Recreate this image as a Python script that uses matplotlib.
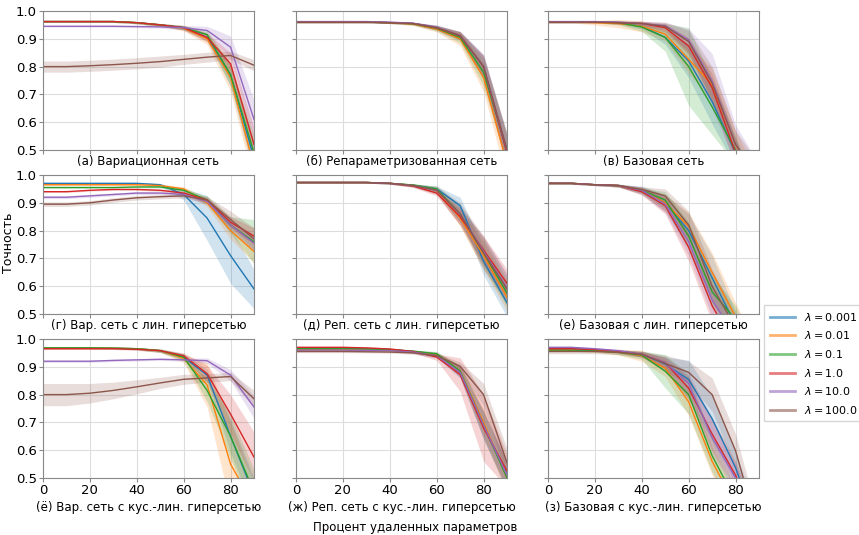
import numpy as np
import matplotlib
matplotlib.use("Agg")
import matplotlib.pyplot as plt

# percent of removed parameters
x = [0, 10, 20, 30, 40, 50, 60, 70, 80, 90]
lambdas = ["0.001", "0.01", "0.1", "1.0", "10.0", "100.0"]

titles = [
    "(а) Вариационная сеть", "(б) Репараметризованная сеть", "(в) Базовая сеть",
    "(г) Вар. сеть с лин. гиперсетью", "(д) Реп. сеть с лин. гиперсетью", "(е) Базовая с лин. гиперсетью",
    "(ё) Вар. сеть с кус.-лин. гиперсетью", "(ж) Реп. сеть с кус.-лин. гиперсетью", "(з) Базовая с кус.-лин. гиперсетью",
]

# mean accuracy per lambda (rows: 0.001, 0.01, 0.1, 1.0, 10.0, 100.0)
acc_a = [
    [0.962, 0.962, 0.962, 0.962, 0.958, 0.950, 0.940, 0.905, 0.770, 0.470],
    [0.962, 0.962, 0.962, 0.962, 0.958, 0.950, 0.938, 0.900, 0.760, 0.440],
    [0.962, 0.962, 0.962, 0.962, 0.958, 0.950, 0.940, 0.915, 0.770, 0.490],
    [0.962, 0.962, 0.962, 0.962, 0.958, 0.950, 0.940, 0.905, 0.810, 0.520],
    [0.945, 0.945, 0.945, 0.945, 0.944, 0.943, 0.940, 0.930, 0.870, 0.610],
    [0.800, 0.800, 0.803, 0.807, 0.812, 0.818, 0.826, 0.834, 0.840, 0.805],
]
std_a = [
    [0.003, 0.003, 0.003, 0.003, 0.004, 0.005, 0.008, 0.015, 0.040, 0.060],
    [0.003, 0.003, 0.003, 0.003, 0.004, 0.005, 0.010, 0.020, 0.050, 0.060],
    [0.003, 0.003, 0.003, 0.003, 0.004, 0.005, 0.008, 0.015, 0.040, 0.060],
    [0.003, 0.003, 0.003, 0.003, 0.004, 0.005, 0.008, 0.015, 0.040, 0.060],
    [0.003, 0.003, 0.003, 0.003, 0.004, 0.005, 0.008, 0.015, 0.040, 0.070],
    [0.020, 0.020, 0.020, 0.020, 0.020, 0.020, 0.018, 0.018, 0.015, 0.020],
]

acc_b = [
    [0.960, 0.960, 0.960, 0.960, 0.958, 0.955, 0.940, 0.910, 0.800, 0.490],
    [0.960, 0.960, 0.960, 0.960, 0.958, 0.953, 0.935, 0.900, 0.760, 0.450],
    [0.960, 0.960, 0.960, 0.960, 0.958, 0.954, 0.938, 0.905, 0.780, 0.500],
    [0.960, 0.960, 0.960, 0.960, 0.958, 0.955, 0.940, 0.910, 0.800, 0.490],
    [0.962, 0.962, 0.962, 0.962, 0.960, 0.956, 0.942, 0.912, 0.800, 0.500],
    [0.960, 0.960, 0.960, 0.960, 0.958, 0.955, 0.940, 0.912, 0.800, 0.500],
]
std_b = [
    [0.003, 0.003, 0.003, 0.003, 0.003, 0.004, 0.008, 0.015, 0.040, 0.060],
    [0.003, 0.003, 0.003, 0.003, 0.003, 0.005, 0.010, 0.025, 0.050, 0.060],
    [0.003, 0.003, 0.003, 0.003, 0.003, 0.005, 0.010, 0.020, 0.050, 0.060],
    [0.003, 0.003, 0.003, 0.003, 0.003, 0.004, 0.008, 0.015, 0.040, 0.060],
    [0.003, 0.003, 0.003, 0.003, 0.003, 0.004, 0.008, 0.015, 0.045, 0.060],
    [0.003, 0.003, 0.003, 0.003, 0.003, 0.004, 0.008, 0.015, 0.040, 0.060],
]

acc_c = [
    [0.960, 0.960, 0.960, 0.958, 0.945, 0.905, 0.820, 0.674, 0.490, 0.300],
    [0.960, 0.960, 0.958, 0.955, 0.945, 0.917, 0.826, 0.735, 0.520, 0.350],
    [0.960, 0.960, 0.960, 0.958, 0.942, 0.905, 0.800, 0.655, 0.500, 0.300],
    [0.960, 0.960, 0.960, 0.958, 0.955, 0.940, 0.874, 0.724, 0.490, 0.300],
    [0.962, 0.962, 0.962, 0.960, 0.955, 0.947, 0.896, 0.747, 0.520, 0.400],
    [0.960, 0.960, 0.960, 0.958, 0.955, 0.945, 0.890, 0.740, 0.520, 0.400],
]
std_c = [
    [0.003, 0.003, 0.003, 0.005, 0.010, 0.025, 0.060, 0.080, 0.050, 0.050],
    [0.003, 0.003, 0.008, 0.015, 0.020, 0.025, 0.050, 0.060, 0.050, 0.050],
    [0.003, 0.003, 0.003, 0.008, 0.015, 0.050, 0.140, 0.100, 0.050, 0.050],
    [0.003, 0.003, 0.003, 0.005, 0.008, 0.015, 0.030, 0.050, 0.050, 0.050],
    [0.003, 0.003, 0.003, 0.005, 0.008, 0.012, 0.040, 0.100, 0.070, 0.050],
    [0.003, 0.003, 0.003, 0.005, 0.008, 0.015, 0.040, 0.060, 0.050, 0.050],
]

acc_d = [
    [0.970, 0.970, 0.970, 0.970, 0.970, 0.965, 0.930, 0.845, 0.710, 0.590],
    [0.965, 0.965, 0.965, 0.965, 0.965, 0.962, 0.950, 0.900, 0.800, 0.725],
    [0.955, 0.955, 0.955, 0.955, 0.957, 0.957, 0.945, 0.910, 0.820, 0.760],
    [0.940, 0.940, 0.945, 0.948, 0.948, 0.945, 0.935, 0.910, 0.830, 0.780],
    [0.920, 0.920, 0.925, 0.930, 0.935, 0.935, 0.930, 0.905, 0.820, 0.755],
    [0.895, 0.895, 0.900, 0.910, 0.918, 0.922, 0.925, 0.910, 0.840, 0.770],
]
std_d = [
    [0.003, 0.003, 0.003, 0.003, 0.003, 0.005, 0.020, 0.080, 0.100, 0.070],
    [0.003, 0.003, 0.003, 0.003, 0.003, 0.004, 0.008, 0.015, 0.030, 0.040],
    [0.003, 0.003, 0.003, 0.003, 0.003, 0.004, 0.008, 0.015, 0.030, 0.080],
    [0.003, 0.003, 0.003, 0.003, 0.003, 0.004, 0.008, 0.010, 0.020, 0.030],
    [0.005, 0.005, 0.005, 0.005, 0.005, 0.005, 0.008, 0.010, 0.020, 0.030],
    [0.008, 0.008, 0.008, 0.008, 0.008, 0.008, 0.008, 0.012, 0.030, 0.040],
]

acc_e = [
    [0.973, 0.973, 0.973, 0.973, 0.970, 0.963, 0.950, 0.890, 0.690, 0.540],
    [0.973, 0.973, 0.973, 0.973, 0.970, 0.963, 0.945, 0.845, 0.710, 0.560],
    [0.973, 0.973, 0.973, 0.973, 0.970, 0.964, 0.950, 0.860, 0.720, 0.575],
    [0.973, 0.973, 0.973, 0.973, 0.970, 0.960, 0.935, 0.850, 0.730, 0.610],
    [0.973, 0.973, 0.973, 0.973, 0.970, 0.962, 0.945, 0.860, 0.725, 0.595],
    [0.973, 0.973, 0.973, 0.973, 0.970, 0.962, 0.945, 0.860, 0.720, 0.590],
]
std_e = [
    [0.002, 0.002, 0.002, 0.002, 0.003, 0.005, 0.010, 0.030, 0.050, 0.050],
    [0.002, 0.002, 0.002, 0.002, 0.003, 0.005, 0.010, 0.030, 0.050, 0.050],
    [0.002, 0.002, 0.002, 0.002, 0.003, 0.005, 0.010, 0.030, 0.050, 0.050],
    [0.002, 0.002, 0.002, 0.002, 0.003, 0.005, 0.010, 0.030, 0.050, 0.050],
    [0.002, 0.002, 0.002, 0.002, 0.003, 0.005, 0.010, 0.030, 0.050, 0.050],
    [0.002, 0.002, 0.002, 0.002, 0.003, 0.005, 0.015, 0.040, 0.060, 0.050],
]

acc_f = [
    [0.970, 0.970, 0.965, 0.962, 0.945, 0.900, 0.800, 0.630, 0.460, 0.300],
    [0.970, 0.970, 0.965, 0.962, 0.945, 0.900, 0.815, 0.650, 0.490, 0.320],
    [0.970, 0.970, 0.965, 0.962, 0.945, 0.910, 0.780, 0.580, 0.480, 0.300],
    [0.970, 0.970, 0.965, 0.962, 0.940, 0.890, 0.740, 0.530, 0.380, 0.250],
    [0.970, 0.970, 0.965, 0.962, 0.945, 0.895, 0.760, 0.550, 0.420, 0.300],
    [0.970, 0.970, 0.965, 0.962, 0.948, 0.925, 0.820, 0.600, 0.450, 0.300],
]
std_f = [
    [0.003, 0.003, 0.003, 0.005, 0.015, 0.030, 0.060, 0.080, 0.050, 0.050],
    [0.003, 0.003, 0.003, 0.005, 0.012, 0.030, 0.050, 0.070, 0.050, 0.050],
    [0.003, 0.003, 0.003, 0.005, 0.010, 0.030, 0.050, 0.060, 0.050, 0.050],
    [0.003, 0.003, 0.003, 0.005, 0.012, 0.030, 0.050, 0.060, 0.050, 0.050],
    [0.003, 0.003, 0.003, 0.005, 0.012, 0.030, 0.050, 0.060, 0.050, 0.050],
    [0.003, 0.003, 0.003, 0.005, 0.010, 0.025, 0.050, 0.060, 0.050, 0.050],
]

acc_g = [
    [0.968, 0.968, 0.968, 0.967, 0.965, 0.958, 0.935, 0.870, 0.650, 0.440],
    [0.968, 0.968, 0.968, 0.967, 0.965, 0.958, 0.930, 0.835, 0.550, 0.400],
    [0.968, 0.968, 0.968, 0.967, 0.965, 0.958, 0.935, 0.815, 0.650, 0.450],
    [0.965, 0.965, 0.965, 0.965, 0.963, 0.958, 0.940, 0.875, 0.730, 0.575],
    [0.920, 0.920, 0.920, 0.923, 0.925, 0.927, 0.925, 0.922, 0.870, 0.755],
    [0.800, 0.800, 0.805, 0.815, 0.828, 0.842, 0.855, 0.860, 0.865, 0.785],
]
std_g = [
    [0.003, 0.003, 0.003, 0.003, 0.004, 0.006, 0.012, 0.020, 0.060, 0.060],
    [0.003, 0.003, 0.003, 0.003, 0.004, 0.006, 0.015, 0.080, 0.150, 0.080],
    [0.003, 0.003, 0.003, 0.003, 0.004, 0.006, 0.012, 0.040, 0.080, 0.080],
    [0.003, 0.003, 0.003, 0.003, 0.004, 0.006, 0.010, 0.030, 0.070, 0.090],
    [0.004, 0.004, 0.004, 0.004, 0.004, 0.004, 0.005, 0.010, 0.020, 0.040],
    [0.040, 0.040, 0.035, 0.030, 0.025, 0.020, 0.018, 0.015, 0.015, 0.030],
]

acc_h = [
    [0.965, 0.965, 0.965, 0.964, 0.962, 0.955, 0.945, 0.880, 0.690, 0.510],
    [0.962, 0.962, 0.962, 0.961, 0.960, 0.955, 0.945, 0.885, 0.700, 0.500],
    [0.965, 0.965, 0.965, 0.964, 0.962, 0.956, 0.947, 0.885, 0.690, 0.500],
    [0.970, 0.970, 0.970, 0.968, 0.964, 0.955, 0.935, 0.872, 0.680, 0.525],
    [0.960, 0.960, 0.960, 0.959, 0.958, 0.953, 0.940, 0.880, 0.690, 0.510],
    [0.955, 0.955, 0.955, 0.954, 0.953, 0.950, 0.940, 0.902, 0.800, 0.555],
]
std_h = [
    [0.004, 0.004, 0.004, 0.004, 0.004, 0.005, 0.008, 0.020, 0.050, 0.050],
    [0.004, 0.004, 0.004, 0.004, 0.004, 0.005, 0.008, 0.020, 0.050, 0.050],
    [0.004, 0.004, 0.004, 0.004, 0.004, 0.005, 0.008, 0.020, 0.050, 0.050],
    [0.004, 0.004, 0.004, 0.004, 0.004, 0.005, 0.012, 0.060, 0.120, 0.060],
    [0.004, 0.004, 0.004, 0.004, 0.004, 0.005, 0.008, 0.020, 0.050, 0.050],
    [0.004, 0.004, 0.004, 0.004, 0.004, 0.005, 0.008, 0.015, 0.040, 0.050],
]

acc_i = [
    [0.965, 0.965, 0.962, 0.955, 0.945, 0.910, 0.854, 0.713, 0.537, 0.300],
    [0.960, 0.960, 0.958, 0.952, 0.940, 0.895, 0.774, 0.560, 0.400, 0.300],
    [0.960, 0.960, 0.958, 0.952, 0.942, 0.884, 0.800, 0.580, 0.420, 0.300],
    [0.965, 0.965, 0.962, 0.956, 0.945, 0.915, 0.823, 0.658, 0.510, 0.300],
    [0.970, 0.970, 0.965, 0.958, 0.945, 0.915, 0.840, 0.645, 0.500, 0.300],
    [0.955, 0.955, 0.955, 0.952, 0.945, 0.912, 0.880, 0.800, 0.598, 0.300],
]
std_i = [
    [0.004, 0.004, 0.004, 0.006, 0.010, 0.025, 0.070, 0.080, 0.060, 0.050],
    [0.004, 0.004, 0.006, 0.010, 0.020, 0.030, 0.050, 0.050, 0.050, 0.050],
    [0.004, 0.004, 0.005, 0.008, 0.015, 0.060, 0.070, 0.060, 0.050, 0.050],
    [0.004, 0.004, 0.004, 0.006, 0.010, 0.020, 0.040, 0.060, 0.050, 0.050],
    [0.004, 0.004, 0.004, 0.006, 0.010, 0.020, 0.040, 0.060, 0.050, 0.050],
    [0.008, 0.008, 0.008, 0.008, 0.010, 0.030, 0.040, 0.060, 0.060, 0.050],
]

panels_acc = [acc_a, acc_b, acc_c, acc_d, acc_e, acc_f, acc_g, acc_h, acc_i]
panels_std = [std_a, std_b, std_c, std_d, std_e, std_f, std_g, std_h, std_i]

colors = plt.rcParams["axes.prop_cycle"].by_key()["color"][:6]

fig = plt.figure(figsize=(8.59, 5.35), dpi=100)

W, H = 859, 535
col_left = [43, 296, 548]
row_top = [11, 175, 339]
ax_w, ax_h = 211, 139

for k in range(9):
    r, c = divmod(k, 3)
    ax = fig.add_axes([col_left[c] / W, 1 - (row_top[r] + ax_h) / H, ax_w / W, ax_h / H])
    for j in range(6):
        m = np.array(panels_acc[k][j])
        s = np.array(panels_std[k][j])
        ax.fill_between(x, m - s, m + s, color=colors[j], alpha=0.2, lw=0)
        ax.plot(x, m, color=colors[j], lw=1.0)
    ax.set_xlim(0, 90)
    ax.set_ylim(0.5, 1.0)
    ax.set_xticks([0, 20, 40, 60, 80])
    ax.set_yticks([0.5, 0.6, 0.7, 0.8, 0.9, 1.0])
    ax.grid(True, color="#dddddd", lw=0.8)
    ax.set_axisbelow(True)
    for sp in ax.spines.values():
        sp.set_color("#888888")
    ax.tick_params(labelsize=9.5, length=3, color="#888888", pad=1.5)
    if c != 0:
        ax.set_yticklabels([])
    if r != 2:
        ax.set_xticklabels([])
    cap_y = 1 - (161 if r == 0 else (326 if r == 1 else 507)) / H
    fig.text((col_left[c] + ax_w / 2) / W, cap_y, titles[k], ha="center", va="center", fontsize=8.5)

fig.text(415 / W, 1 - 528 / H, "Процент удаленных параметров", ha="center", va="center", fontsize=8.5)
fig.text(9 / W, 1 - 243 / H, "Точность", ha="center", va="center", rotation=90, fontsize=9)

leg_handles = [plt.Line2D([0], [0], color=colors[j], lw=2, alpha=0.6) for j in range(6)]
fig.legend(leg_handles, [rf"$\lambda = {l}$" for l in lambdas], loc="upper left",
           bbox_to_anchor=(764 / W, 1 - 305 / H), fontsize=8, frameon=True,
           handlelength=2.3, labelspacing=0.6, borderaxespad=0, borderpad=0.5,
           handletextpad=0.8, fancybox=False, edgecolor="#cccccc")

fig.savefig("out.png", dpi=100)
